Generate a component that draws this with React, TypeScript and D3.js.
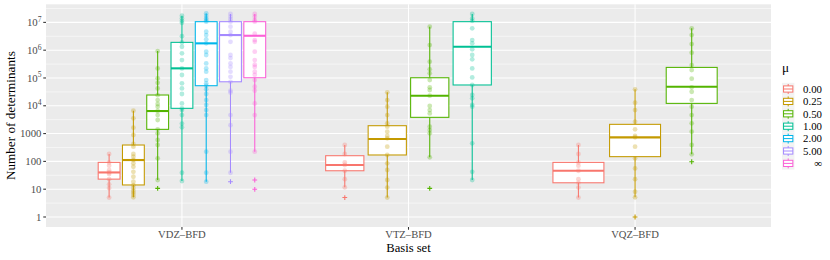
import React from "react";
import * as d3 from "d3";

const basisSets = ["VDZ–BFD", "VTZ–BFD", "VQZ–BFD"];
const muLabels = ["0.00", "0.25", "0.50", "1.00", "2.00", "5.00", "∞"];
const muColors = ["#F8766D", "#C49A00", "#53B400", "#00C094", "#00B6EB", "#A58AFF", "#FB61D7"];
const yTicks = [1, 10, 100, 1000, 1e4, 1e5, 1e6, 1e7];

// box stats: [lower whisker, q1, median, q3, upper whisker]
const vdzBoxes = [
  [5, 23, 40, 92, 185],
  [5.1, 14.2, 112, 388, 6650],
  [21.4, 1420, 6480, 24400, 9.3e5],
  [19.7, 8100, 2.22e5, 1.91e6, 1.73e7],
  [18.6, 5.27e4, 1.76e6, 1.06e7, 2.1e7],
  [39, 7.3e4, 3.5e6, 1.06e7, 2e7],
  [223, 1.02e5, 3.3e6, 1.06e7, 2e7],
];
const vtzBoxes = [
  [11.7, 46, 74, 160, 388],
  [5, 170, 638, 1920, 3.04e4],
  [140, 3840, 2.3e4, 1.02e5, 7e6],
  [21.4, 5.6e4, 1.33e6, 1.06e7, 2e7],
];
const vqzBoxes = [
  [5, 17, 46, 92, 388],
  [5.1, 148, 733, 2150, 3.9e4],
  [180, 1.22e4, 4.85e4, 2.4e5, 6.1e6],
];

const vdzPoints = [
  [185, 92, 70, 48, 40, 35, 23, 15, 11, 5],
  [6650, 3540, 1625, 890, 422, 338, 184, 147, 112, 85, 64, 42, 28, 18.6, 14, 11, 8.8, 7.5, 6.2, 5.1],
  [9.3e5, 2.2e5, 9.7e4, 6.7e4, 4.2e4, 2.4e4, 1.6e4, 1.16e4, 9.3e3, 6.5e3, 4650, 3075, 1420, 1020, 587, 388, 129, 21.4],
  [1.73e7, 1.39e7, 1.14e7, 9.7e6, 3.2e6, 1.9e6, 1.33e6, 7.7e5, 4.4e5, 2.2e5, 1.28e5, 6.4e4, 4.2e4, 2.65e4, 1.22e4, 8.1e3, 7e3, 4650, 2300, 1680, 39, 19.7],
  [2.1e7, 1.7e7, 1.39e7, 1.2e7, 1.06e7, 4.6e6, 3.5e6, 2.45e6, 1.76e6, 8.8e5, 6.7e5, 3.35e5, 2.2e5, 1.68e5, 8.4e4, 6.4e4, 5.27e4, 3.9e4, 2.65e4, 1.6e4, 1.07e4, 7e3, 4650, 223, 39, 18.6],
  [2e7, 1.6e7, 1.3e7, 1.06e7, 7e6, 4.6e6, 3.5e6, 2e6, 6.7e5, 5.2e5, 3.35e5, 2.5e5, 1.68e5, 1.1e5, 7.3e4, 3.5e4, 3e4, 4650, 2000, 223, 39],
  [2e7, 1.6e7, 1.2e7, 1.06e7, 3.9e6, 2.3e6, 2e6, 8.8e5, 4.4e5, 3e5, 2.5e5, 1.68e5, 1.3e5, 8.4e4, 4.85e4, 3.5e4, 1.22e4, 4650, 223],
];
const vtzPoints = [
  [388, 184, 92, 74, 46, 23, 11.7],
  [3.04e4, 1.6e4, 9270, 4650, 2340, 1770, 1170, 818, 676, 337, 170, 85, 49, 21.4, 11.4, 5],
  [7e6, 1.53e6, 3.85e5, 2.04e5, 1.47e5, 8.4e4, 4.6e4, 3.7e4, 2.3e4, 9.8e3, 7e3, 5.3e3, 1770, 1340, 1020, 140],
  [2e7, 1.39e7, 1.14e7, 6.1e6, 2.3e6, 1.76e6, 1.07e6, 6.7e5, 4.7e5, 2.2e5, 1.05e5, 5.6e4, 2.44e4, 1.85e4, 1.07e4, 9.3e3, 447, 42, 21.4],
];
const vqzPoints = [
  [388, 184, 92, 70, 46, 23, 17, 11.4, 5],
  [3.9e4, 1.29e4, 7e3, 2670, 1420, 818, 733, 337, 129, 56, 23, 8.1, 5.1],
  [6.1e6, 3.5e6, 1.66e6, 8.1e5, 2.9e5, 1.93e5, 9.4e4, 4.6e4, 3.2e4, 1.6e4, 9.3e3, 4650, 2340, 1170, 388, 180],
];

const vdzOutliers = [[], [], [10.7], [], [], [18.6], [21.4, 9.9]];
const vtzOutliers = [[5], [], [10.7], []];
const vqzOutliers = [[], [1], [97]];

const groupBoxes = [vdzBoxes, vtzBoxes, vqzBoxes];
const groupPoints = [vdzPoints, vtzPoints, vqzPoints];
const groupOutliers = [vdzOutliers, vtzOutliers, vqzOutliers];

const W = 830;
const H = 260;
const P = { left: 46, right: 771, top: 4.3, bottom: 227 };
const FONT = "'Liberation Serif', 'Times New Roman', serif";

export default function App() {
  const x = d3.scalePoint<string>().domain(basisSets).range([P.left, P.right]).padding(0.6);
  const step = x.step();
  const y = d3.scaleLog().domain([Math.pow(10, -0.36), Math.pow(10, 7.65)]).range([P.bottom, P.top]);

  const minor = d3.range(0, 8).map((k) => Math.pow(10, k + 0.5));

  const legendRowH = 12.4;
  const legendY0 = 89;
  const legendX = 782;

  return (
    <svg
      width={W}
      height={H}
      style={{ position: "absolute", left: 0, top: 0, background: "#fff" }}
      fontFamily={FONT}
    >
      <rect x={P.left} y={P.top} width={P.right - P.left} height={P.bottom - P.top} fill="#EBEBEB" />
      {minor.map((v, i) => (
        <line key={"mn" + i} x1={P.left} x2={P.right} y1={y(v)} y2={y(v)} stroke="#fff" strokeWidth={0.53} />
      ))}
      {yTicks.map((v, i) => (
        <line key={"mj" + i} x1={P.left} x2={P.right} y1={y(v)} y2={y(v)} stroke="#fff" strokeWidth={1.07} />
      ))}
      {basisSets.map((b) => (
        <line key={"vx" + b} x1={x(b)} x2={x(b)} y1={P.top} y2={P.bottom} stroke="#fff" strokeWidth={1.07} />
      ))}

      {basisSets.map((b, gi) => {
        const boxes = groupBoxes[gi];
        const n = boxes.length;
        const slot = (0.75 * step) / n;
        const bw = slot * 0.9;
        return boxes.map((s, i) => {
          const cx = (x(b) as number) + (i - (n - 1) / 2) * slot;
          const col = muColors[i];
          const [lo, q1, med, q3, hi] = s;
          return (
            <g key={b + i}>
              <line x1={cx} x2={cx} y1={y(hi)} y2={y(q3)} stroke={col} strokeWidth={1.07} />
              <line x1={cx} x2={cx} y1={y(q1)} y2={y(lo)} stroke={col} strokeWidth={1.07} />
              <rect x={cx - bw / 2} y={y(q3)} width={bw} height={y(q1) - y(q3)} fill="#fff" stroke={col} strokeWidth={1.07} />
              <line x1={cx - bw / 2} x2={cx + bw / 2} y1={y(med)} y2={y(med)} stroke={col} strokeWidth={2.1} />
              {groupOutliers[gi][i].map((v, k) => (
                <path
                  key={"o" + k}
                  d={`M${cx - 2.4},${y(v)}H${cx + 2.4}M${cx},${y(v) - 2.4}V${y(v) + 2.4}`}
                  stroke={col}
                  strokeWidth={1.1}
                />
              ))}
              {groupPoints[gi][i].map((v, k) => (
                <circle key={"p" + k} cx={cx} cy={y(v)} r={2.4} fill={col} fillOpacity={0.3} />
              ))}
            </g>
          );
        });
      })}

      {/* y axis */}
      {yTicks.map((v, i) => {
        const yy = y(v);
        const exp = Math.round(Math.log10(v));
        return (
          <g key={"yt" + i}>
            <line x1={P.left - 2.75} x2={P.left} y1={yy} y2={yy} stroke="#333" strokeWidth={1.07} />
            <text x={P.left - 4.5} y={yy + 3.6} textAnchor="end" fontSize={10.8} fill="#4D4D4D">
              {exp < 4 ? (
                String(v)
              ) : (
                <>
                  10
                  <tspan dy={-4.2} fontSize={7.6}>
                    {exp}
                  </tspan>
                </>
              )}
            </text>
          </g>
        );
      })}
      {/* x axis */}
      {basisSets.map((b) => (
        <g key={"xt" + b}>
          <line x1={x(b)} x2={x(b)} y1={P.bottom} y2={P.bottom + 2.75} stroke="#333" strokeWidth={1.07} />
          <text x={x(b)} y={238} textAnchor="middle" fontSize={10.6} fill="#4D4D4D">
            {b}
          </text>
        </g>
      ))}
      <text x={(P.left + P.right) / 2} y={251.8} textAnchor="middle" fontSize={12.6} fill="#000">
        Basis set
      </text>
      <text
        transform={`translate(14.5,${(P.top + P.bottom) / 2}) rotate(-90)`}
        textAnchor="middle"
        fontSize={13.2}
        fill="#000"
      >
        Number of determinants
      </text>

      {/* legend */}
      <text x={legendX} y={71.5} fontSize={13.2} fill="#000">
        μ
      </text>
      {muLabels.map((lab, i) => {
        const cy = legendY0 + i * legendRowH;
        const kx = legendX;
        const ks = 12.4;
        const col = muColors[i];
        const top = cy - ks / 2;
        return (
          <g key={"lg" + i}>
            <rect x={kx} y={top} width={ks} height={ks} fill="#F2F2F2" />
            <line x1={kx + ks / 2} x2={kx + ks / 2} y1={top + ks * 0.1} y2={top + ks * 0.9} stroke={col} strokeWidth={1} />
            <rect
              x={kx + ks * 0.125}
              y={top + ks * 0.25}
              width={ks * 0.75}
              height={ks * 0.5}
              fill="#fff"
              stroke={col}
              strokeWidth={1}
            />
            <line x1={kx + ks * 0.125} x2={kx + ks * 0.875} y1={cy} y2={cy} stroke={col} strokeWidth={1} />
            <text x={822} y={cy + 3.7} textAnchor="end" fontSize={10.8} fill="#000">
              {lab}
            </text>
          </g>
        );
      })}
    </svg>
  );
}
